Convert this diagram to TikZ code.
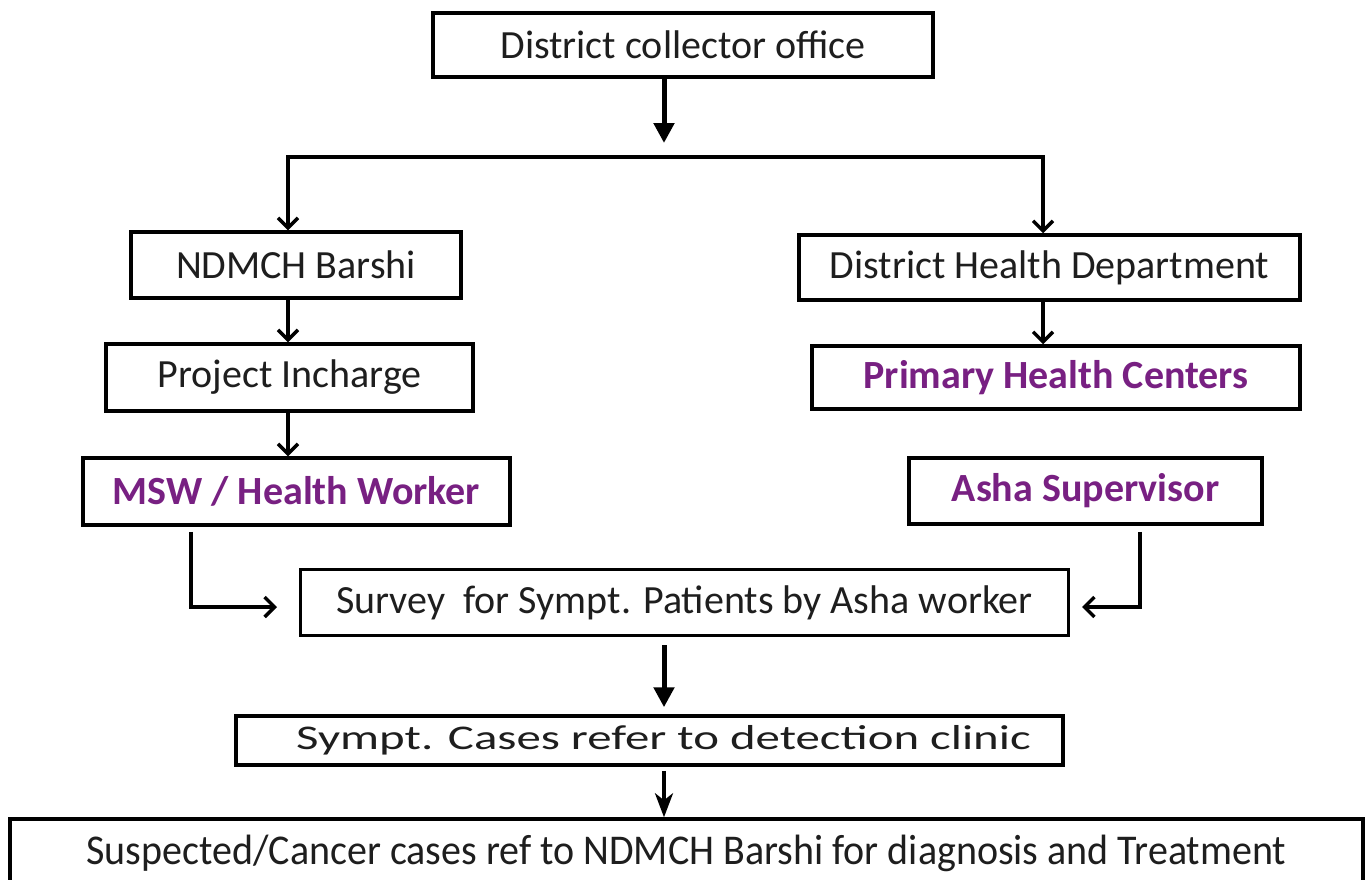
\documentclass[tikz,border=0pt]{standalone}
\usepackage{fontspec}
\setmainfont{Carlito}
\usetikzlibrary{arrows.meta,calc}
\definecolor{txt}{RGB}{30,30,30}
\definecolor{purp}{RGB}{120,32,130}
\begin{document}
\begin{tikzpicture}[x=1pt,y=-1pt,
  box/.style={draw=black,line width=3.5pt,rectangle,inner sep=0pt,text=txt,
    font=\fontsize{40}{48}\selectfont},
  pbox/.style={box,text=purp,font=\fontsize{40}{48}\selectfont\bfseries},
  fillarrow/.style={line width=5pt,-{Triangle[length=20pt,width=20pt]}},
  thinarrow/.style={line width=3.5pt,-{Stealth[length=24pt,width=18pt,inset=7pt]}},
  openarrow/.style={line width=3.5pt,line join=miter,-{Straight Barb[length=10pt,width=20pt]}}
]
\useasboundingbox (0,0) rectangle (1366,879);
\fill[white] (0,0) rectangle (1366,879);
\clip (0,0) rectangle (1366,879);

% nodes
\node[box,minimum width=500,minimum height=64] (dco) at (683,45) {District collector office};
\node[box,minimum width=330,minimum height=66] (ndmch) at (296,265) {NDMCH Barshi};
\node[box,minimum width=501,minimum height=65] (dhd) at (1049.5,267.5) {District Health Department};
\node[box,minimum width=367,minimum height=67] (pi) at (289.5,377.5) {Project Incharge};
\node[pbox,minimum width=488,minimum height=63] (phc) at (1056,377.5) {Primary Health Centers};
\node[pbox,minimum width=427,minimum height=67] (msw) at (296.5,491.5) {MSW / Health Worker};
\node[pbox,minimum width=353,minimum height=66] (asha) at (1085.5,491) {Asha Supervisor};
\node[box,minimum width=768,minimum height=66] (survey) at (684.5,602.5) {Survey\ \ for Sympt. Patients by Asha worker};
\node[box,minimum width=827,minimum height=49] (sympt) at (649.5,740.5)
  {\hspace*{28pt}\scalebox{1.48}[1.05]{\fontsize{33}{40}\selectfont Sympt. Cases refer to detection clinic}};
\node[box,minimum width=1353,minimum height=68] (final) at (686.5,853)
  {\scalebox{1}[1.06]{Suspected/Cancer cases ref to NDMCH Barshi for diagnosis and Treatment}};

% helper coordinates
\coordinate (a1) at (664,143);
\coordinate (jn) at (664,157);
\coordinate (bl) at (288,157);
\coordinate (br) at (1043,157);
\coordinate (el) at (191,607);
\coordinate (er) at (1140,607);
\coordinate (sl) at (277,607);
\coordinate (sr) at (1082,607);

% connectors
\draw[fillarrow] (dco.south -| a1) -- (a1);
\draw[openarrow] (jn) -- (bl) -- (ndmch.north -| bl);
\draw[openarrow] (jn) -- (br) -- (dhd.north -| br);
\draw[openarrow] (ndmch.south -| bl) -- (pi.north -| bl);
\draw[openarrow] (pi.south -| bl) -- (msw.north -| bl);
\draw[openarrow] (dhd.south -| br) -- (phc.north -| br);
\draw[openarrow,shorten <=5pt] (msw.south -| el) |- (sl);
\draw[openarrow,shorten <=6pt] (asha.south -| er) |- (sr);
\draw[fillarrow,shorten <=8pt,shorten >=7pt] (survey.south -| a1) -- (sympt.north -| a1);
\draw[thinarrow,shorten <=4pt] (sympt.south -| a1) -- (final.north -| a1);
\end{tikzpicture}
\end{document}
